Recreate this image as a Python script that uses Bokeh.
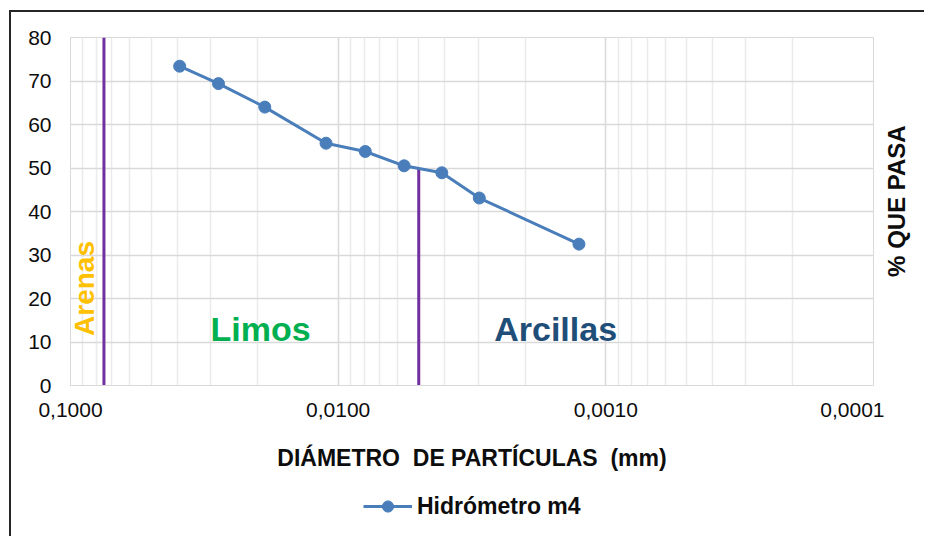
import math
from bokeh.plotting import figure
from bokeh.layouts import column, row
from bokeh.models import Range1d, FixedTicker, Label, Legend, LegendItem
from bokeh.embed import file_html
from bokeh.resources import INLINE

# ---- data ----
diametro_mm = [0.0391, 0.0280, 0.0188, 0.0111, 0.00792, 0.00567, 0.00410, 0.00297, 0.00126]
porcentaje_pasa = [73.4, 69.4, 64.0, 55.7, 53.8, 50.5, 48.9, 43.1, 32.5]
serie_nombre = "Hidrómetro m4"

limites_x = [0.075, 0.005]
limites_top = [80, 50]

x_ticks = [0.1, 0.01, 0.001, 0.0001]
x_tick_labels = ["0,1000", "0,0100", "0,0010", "0,0001"]
y_ticks = [0, 10, 20, 30, 40, 50, 60, 70, 80]

zonas = ["Arenas", "Limos", "Arcillas"]
titulo_y = "% QUE PASA"

FONT = "Liberation Sans"
TXT = "#0d0d0d"
GRID = "#D9D9D9"
SERIE = "#4A7EBB"

minor = [m * 10.0 ** e for e in (-2, -3, -4) for m in range(2, 10)]

MAIN_H = 25 + 348 + 95
RIGHT_B = 11
SIDE_W = 40

p = figure(frame_width=803, frame_height=348, x_axis_type="log",
           x_range=Range1d(0.1, 0.0001), y_range=Range1d(0, 80),
           output_backend="svg", toolbar_location=None,
           min_border_left=59, min_border_top=25,
           min_border_right=RIGHT_B, min_border_bottom=95)
p.outline_line_color = GRID

# x axis
p.xaxis.ticker = FixedTicker(ticks=x_ticks, minor_ticks=minor)
p.xaxis.major_label_overrides = dict(zip(x_ticks, x_tick_labels))
p.xaxis.axis_label = "DIÁMETRO\u00a0\u00a0DE PARTÍCULAS\u00a0\u00a0(mm)"
p.xaxis.axis_label_text_font = FONT
p.xaxis.axis_label_text_font_style = "bold"
p.xaxis.axis_label_text_font_size = "23px"
p.xaxis.axis_label_text_color = TXT
p.xaxis.axis_label_standoff = 25
p.xaxis.major_label_text_font = FONT
p.xaxis.major_label_text_font_size = "21px"
p.xaxis.major_label_text_color = TXT
p.xaxis.major_label_standoff = 17
p.xaxis.major_tick_out = 0
p.xaxis.major_tick_in = 0
p.xaxis.minor_tick_out = 0
p.xaxis.minor_tick_in = 0
p.xaxis.major_tick_line_color = None
p.xaxis.minor_tick_line_color = None
p.xaxis.axis_line_color = GRID

# y axis
p.yaxis.ticker = FixedTicker(ticks=y_ticks)
p.yaxis.major_label_text_font = FONT
p.yaxis.major_label_text_font_size = "21px"
p.yaxis.major_label_text_color = TXT
p.yaxis.major_label_standoff = 19
p.yaxis.major_tick_out = 0
p.yaxis.major_tick_in = 0
p.yaxis.minor_tick_out = 0
p.yaxis.minor_tick_in = 0
p.yaxis.major_tick_line_color = None
p.yaxis.minor_tick_line_color = None
p.yaxis.axis_line_color = GRID

# grids
p.xgrid.ticker = FixedTicker(ticks=x_ticks, minor_ticks=minor)
p.xgrid.grid_line_color = GRID
p.xgrid.grid_line_width = 1.5
p.xgrid.minor_grid_line_color = "#EBEBEB"
p.xgrid.minor_grid_line_width = 1.5
p.ygrid.ticker = FixedTicker(ticks=y_ticks)
p.ygrid.grid_line_color = GRID
p.ygrid.grid_line_width = 1.5

# boundary lines
p.segment(x0=limites_x, y0=[0, 0], x1=limites_x, y1=limites_top,
          line_color="#7030A0", line_width=3)

# series
p.line(diametro_mm, porcentaje_pasa, line_color=SERIE, line_width=3)
p.scatter(diametro_mm, porcentaje_pasa, size=12, fill_color=SERIE, line_color=SERIE)

# zone labels
p.add_layout(Label(x=0.0888, y=22.3, text=zonas[0], angle=math.pi / 2,
                   text_align="center", text_baseline="middle",
                   text_font=FONT, text_font_style="bold", text_font_size="28px",
                   text_color="#FFC000"))
p.add_layout(Label(x=0.0195, y=12.9, text=zonas[1],
                   text_align="center", text_baseline="middle",
                   text_font=FONT, text_font_style="bold", text_font_size="34px",
                   text_color="#00B050"))
p.add_layout(Label(x=0.00154, y=12.9, text=zonas[2],
                   text_align="center", text_baseline="middle",
                   text_font=FONT, text_font_style="bold", text_font_size="34px",
                   text_color="#1F4E79"))

# right-hand title strip (vertical text reading bottom-to-top)
side_fig = figure(width=SIDE_W, height=MAIN_H, x_range=Range1d(0, SIDE_W),
                  y_range=Range1d(0, MAIN_H), output_backend="svg",
                  toolbar_location=None, x_axis_location=None,
                  y_axis_location=None, min_border=0)
side_fig.outline_line_color = None
side_fig.grid.visible = False
side_fig.add_layout(Label(x=12, y=MAIN_H - 220, text=titulo_y, angle=math.pi / 2,
                          text_align="center", text_baseline="middle",
                          text_font=FONT, text_font_style="bold",
                          text_font_size="24px", text_color=TXT))

# legend strip (separate small figure; its series lies outside its ranges)
leg_fig = figure(width=59 + 803 + RIGHT_B + SIDE_W, height=56,
                 x_range=Range1d(0, 1), y_range=Range1d(0, 1),
                 output_backend="svg", toolbar_location=None,
                 x_axis_location=None, y_axis_location=None, min_border=0)
leg_fig.outline_line_color = None
leg_fig.grid.visible = False
lr_line = leg_fig.line(diametro_mm, porcentaje_pasa, line_color=SERIE, line_width=3)
lr_pts = leg_fig.scatter(diametro_mm, porcentaje_pasa, size=12,
                         fill_color=SERIE, line_color=SERIE)
legend = Legend(items=[LegendItem(label=serie_nombre, renderers=[lr_line, lr_pts])],
                location=(352, 16), orientation="horizontal",
                border_line_color=None, background_fill_alpha=0,
                label_text_font=FONT, label_text_font_style="bold",
                label_text_font_size="23px", label_text_color=TXT,
                glyph_width=49, glyph_height=28, label_standoff=5,
                margin=0, padding=6)
leg_fig.add_layout(legend, "center")

layout = column(row(p, side_fig, spacing=0), leg_fig, spacing=0)
layout.styles = {"border-left": "2px solid #262626", "border-top": "2px solid #262626",
                 "margin-left": "9px", "margin-top": "10px"}

open("out.html", "w").write(file_html(layout, INLINE))
